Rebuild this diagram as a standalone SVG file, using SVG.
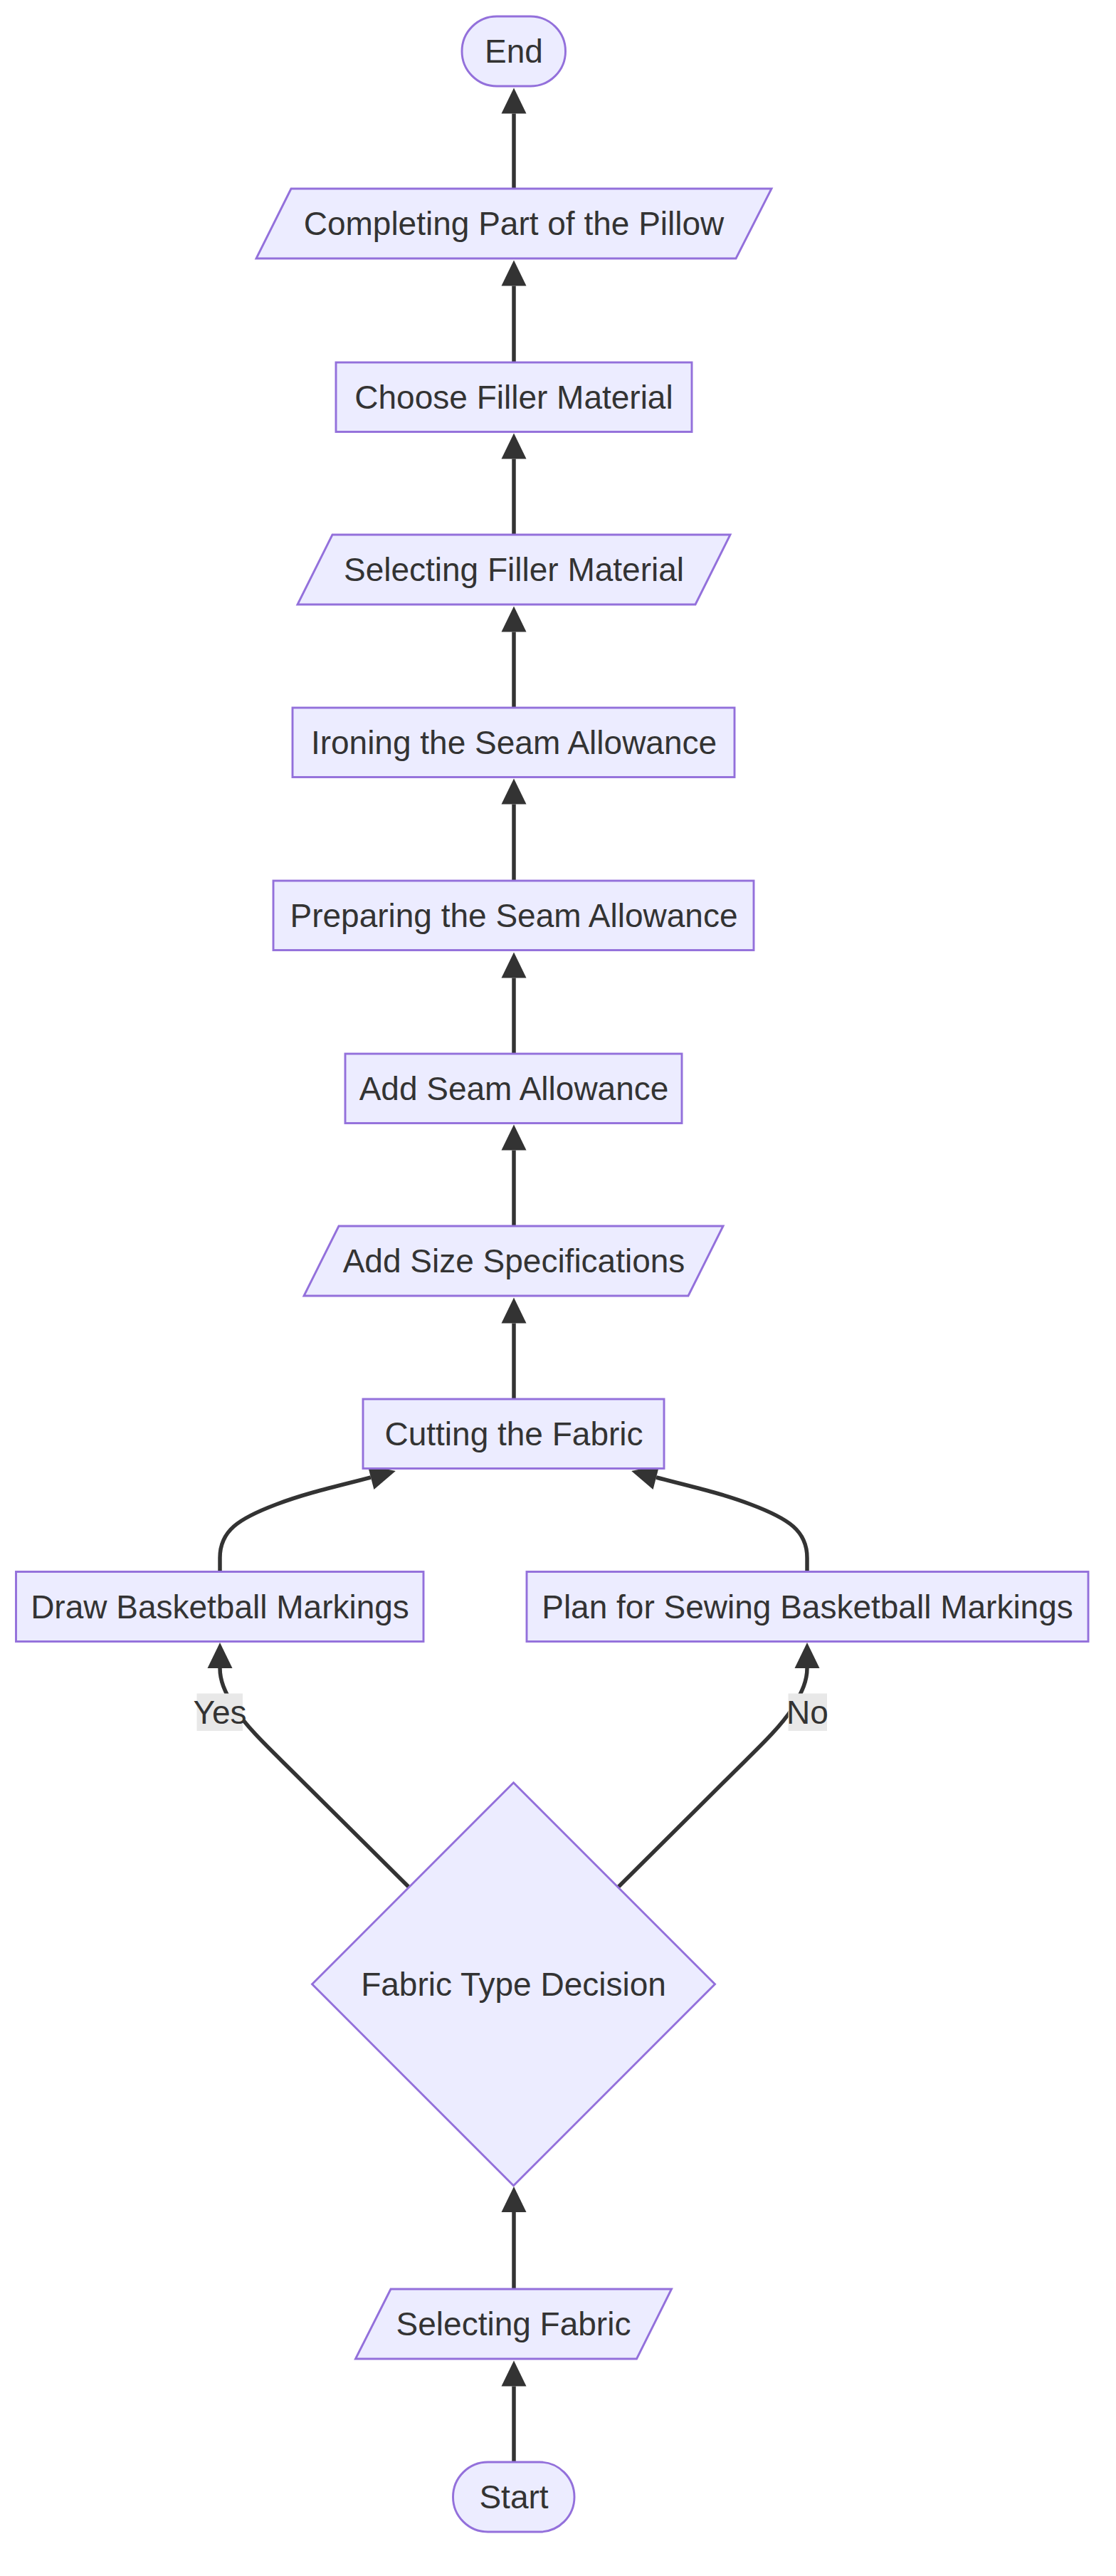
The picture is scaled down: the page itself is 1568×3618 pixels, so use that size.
<svg xmlns="http://www.w3.org/2000/svg" width="1568" height="3618" viewBox="0 0 1568 3618">
<style>
.node{fill:#ECECFF;stroke:#9370DB;stroke-width:2.9}
.lbl{font-family:"Trebuchet MS","Liberation Sans",Arial,sans-serif;font-size:46px;fill:#333333;text-anchor:middle}
.edge{fill:none;stroke:#333333;stroke-width:5.5}
.elbg{fill:#E8E8E8;stroke:none}
</style>
<defs>
<marker id="arrow" markerUnits="userSpaceOnUse" markerWidth="36" markerHeight="36" viewBox="0 0 36 36" refX="0" refY="18" orient="auto" overflow="visible">
<path d="M0,0.5 L36,18 L0,35.5 Z" fill="#333333"/>
</marker>
</defs>
<rect width="1568" height="3618" fill="#FFFFFF"/>
<g id="edges">
<path class="edge" d="M722,3458 L722,3351.5" marker-end="url(#arrow)"/>
<path class="edge" d="M722,3215 L722,3107" marker-end="url(#arrow)"/>
<path class="edge" d="M574,2650 L420,2497 C380,2457 350,2430 330,2400 C315,2375 309,2360 309,2343" marker-end="url(#arrow)"/>
<path class="edge" d="M869,2650 L1023,2497 C1063,2457 1093,2430 1113,2400 C1128,2375 1134,2360 1134,2343" marker-end="url(#arrow)"/>
<path class="edge" d="M309,2208 L309,2188 C309,2150 335,2133 388,2113 C430,2097 475,2087 521,2075" marker-end="url(#arrow)"/>
<path class="edge" d="M1134,2208 L1134,2188 C1134,2150 1108,2133 1055,2113 C1013,2097 968,2087 922,2075" marker-end="url(#arrow)"/>
<path class="edge" d="M722,1965 L722,1858.5" marker-end="url(#arrow)"/>
<path class="edge" d="M722,1722 L722,1615.5" marker-end="url(#arrow)"/>
<path class="edge" d="M722,1480 L722,1373.5" marker-end="url(#arrow)"/>
<path class="edge" d="M722,1237 L722,1129.5" marker-end="url(#arrow)"/>
<path class="edge" d="M722,994 L722,887.5" marker-end="url(#arrow)"/>
<path class="edge" d="M722,751 L722,644.5" marker-end="url(#arrow)"/>
<path class="edge" d="M722,509 L722,401.5" marker-end="url(#arrow)"/>
<path class="edge" d="M722,265 L722,159.5" marker-end="url(#arrow)"/>
<g id="label-yes">
<rect class="elbg" x="276.5" y="2378.5" width="64.5" height="52.5"/>
<text class="lbl" x="309" y="2421">Yes</text>
</g>
<g id="label-no">
<rect class="elbg" x="1107.5" y="2378.5" width="54.5" height="52.5"/>
<text class="lbl" x="1134.5" y="2421">No</text>
</g>
</g>
<g id="end">
<rect class="node" x="649" y="23" width="145.5" height="98" rx="49" ry="49"/>
<text class="lbl" x="722" y="88">End</text>
</g>
<g id="completing">
<polygon class="node" points="409,265 1084,265 1034,363 360,363"/>
<text class="lbl" x="722" y="330">Completing Part of the Pillow</text>
</g>
<g id="choose">
<rect class="node" x="472" y="509" width="500" height="97.5"/>
<text class="lbl" x="722" y="574">Choose Filler Material</text>
</g>
<g id="selecting-filler">
<polygon class="node" points="467,751 1026,751 977,849 418,849"/>
<text class="lbl" x="722" y="816">Selecting Filler Material</text>
</g>
<g id="ironing">
<rect class="node" x="411" y="994" width="621" height="97.5"/>
<text class="lbl" x="722" y="1059">Ironing the Seam Allowance</text>
</g>
<g id="preparing">
<rect class="node" x="384" y="1237" width="675" height="97.5"/>
<text class="lbl" x="722" y="1302">Preparing the Seam Allowance</text>
</g>
<g id="add-seam">
<rect class="node" x="485" y="1480" width="473" height="97.5"/>
<text class="lbl" x="722" y="1545">Add Seam Allowance</text>
</g>
<g id="add-size">
<polygon class="node" points="476,1722 1016,1722 967,1820 427,1820"/>
<text class="lbl" x="722" y="1787">Add Size Specifications</text>
</g>
<g id="cutting">
<rect class="node" x="510" y="1965" width="423" height="97.5"/>
<text class="lbl" x="722" y="2030">Cutting the Fabric</text>
</g>
<g id="draw">
<rect class="node" x="22.5" y="2207.5" width="572.5" height="98"/>
<text class="lbl" x="309" y="2273">Draw Basketball Markings</text>
</g>
<g id="plan">
<rect class="node" x="740" y="2207.5" width="789" height="98"/>
<text class="lbl" x="1134.5" y="2273">Plan for Sewing Basketball Markings</text>
</g>
<g id="decision">
<polygon class="node" points="721.5,2503.7 1004.5,2786.7 721.5,3069.7 438.5,2786.7"/>
<text class="lbl" x="721.5" y="2803">Fabric Type Decision</text>
</g>
<g id="selecting-fabric">
<polygon class="node" points="549,3215 943.5,3215 894.5,3313 499.5,3313"/>
<text class="lbl" x="721.5" y="3280">Selecting Fabric</text>
</g>
<g id="start">
<rect class="node" x="636.5" y="3458" width="170.5" height="98" rx="49" ry="49"/>
<text class="lbl" x="722" y="3523">Start</text>
</g>
</svg>
